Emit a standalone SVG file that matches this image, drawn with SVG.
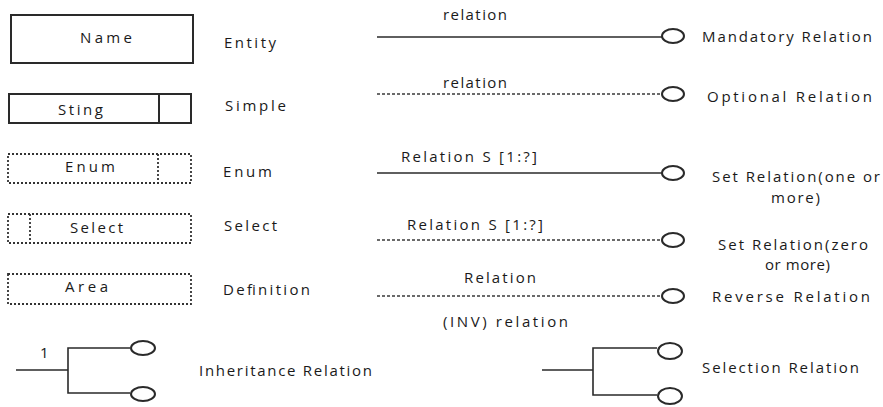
<svg xmlns="http://www.w3.org/2000/svg" width="883" height="407" viewBox="0 0 883 407">
<style>
text{font-family:"Open Sans","Liberation Sans",Arial,sans-serif;font-size:15px;font-weight:500;fill:#1a1a1a}
.box{fill:#fff;stroke:#2a2a2a;stroke-width:2}
.dot{fill:#fff;stroke:#333;stroke-width:1.8;stroke-dasharray:2 2}
.line{fill:none;stroke:#2a2a2a;stroke-width:1.6}
.dash{fill:none;stroke:#3a3a3a;stroke-width:1.4;stroke-dasharray:3 2}
.end{fill:#fff;stroke:#2a2a2a;stroke-width:2}
</style>
<rect width="883" height="407" fill="#fff"/>
<g id="entity">
<rect class="box" x="11" y="15" width="182" height="48"/>
<text x="80" y="43" textLength="52" lengthAdjust="spacing">Name</text>
<text x="224" y="48" textLength="52" lengthAdjust="spacing">Entity</text>
</g>
<g id="simple">
<rect class="box" x="9" y="94" width="182" height="29"/>
<line class="box" x1="159" y1="94" x2="159" y2="123"/>
<text x="58" y="115" textLength="45" lengthAdjust="spacing">Sting</text>
<text x="225" y="111" textLength="61" lengthAdjust="spacing">Simple</text>
</g>
<g id="enum">
<rect class="dot" x="8" y="154" width="183" height="29"/>
<line class="dot" x1="158" y1="154" x2="158" y2="183"/>
<text x="65" y="172" textLength="50" lengthAdjust="spacing">Enum</text>
<text x="223" y="177" textLength="49" lengthAdjust="spacing">Enum</text>
</g>
<g id="select">
<rect class="dot" x="8" y="214" width="183" height="29"/>
<line class="dot" x1="30" y1="214" x2="30" y2="243"/>
<text x="70" y="233" textLength="53" lengthAdjust="spacing">Select</text>
<text x="224" y="231" textLength="53" lengthAdjust="spacing">Select</text>
</g>
<g id="area">
<rect class="dot" x="8" y="274" width="183" height="30"/>
<text x="65" y="292" textLength="43" lengthAdjust="spacing">Area</text>
<text x="223" y="295" textLength="87" lengthAdjust="spacing">Definition</text>
</g>
<g id="connectors">
<line class="line" x1="377" y1="37" x2="662" y2="37"/>
<ellipse class="end" cx="673" cy="36" rx="11" ry="7"/>
<line class="dash" x1="377" y1="94" x2="662" y2="94"/>
<ellipse class="end" cx="673" cy="94" rx="11" ry="7"/>
<line class="line" x1="377" y1="173" x2="662" y2="173"/>
<ellipse class="end" cx="673" cy="173" rx="11" ry="7"/>
<line class="dash" x1="377" y1="240" x2="662" y2="240"/>
<ellipse class="end" cx="673" cy="240" rx="11" ry="7"/>
<line class="dash" x1="377" y1="296" x2="662" y2="296"/>
<ellipse class="end" cx="673" cy="296" rx="11" ry="7"/>
<path class="line" d="M16 370H68M130 348H68V393H130"/>
<ellipse class="end" cx="143" cy="348" rx="12" ry="7"/>
<ellipse class="end" cx="143" cy="394" rx="12" ry="7"/>
<path class="line" d="M542 370H593M657 348H593V395H657"/>
<ellipse class="end" cx="670" cy="351" rx="12" ry="8"/>
<ellipse class="end" cx="670" cy="396" rx="12" ry="8"/>
</g>
<g id="labels">
<text x="443" y="20" textLength="64" lengthAdjust="spacing">relation</text>
<text x="702" y="42" textLength="170" lengthAdjust="spacing">Mandatory Relation</text>
<text x="443" y="88" textLength="64" lengthAdjust="spacing">relation</text>
<text x="707" y="102" textLength="165" lengthAdjust="spacing">Optional Relation</text>
<text x="401" y="162" textLength="136" lengthAdjust="spacing">Relation S [1:?]</text>
<text x="712" y="182" textLength="168" lengthAdjust="spacing">Set Relation(one or</text>
<text x="771" y="203" textLength="49" lengthAdjust="spacing">more)</text>
<text x="407" y="230" textLength="136" lengthAdjust="spacing">Relation S [1:?]</text>
<text x="718" y="250" textLength="150" lengthAdjust="spacing">Set Relation(zero</text>
<text x="765" y="270" textLength="65" lengthAdjust="spacing">or more)</text>
<text x="464" y="283" textLength="72" lengthAdjust="spacing">Relation</text>
<text x="712" y="302" textLength="158" lengthAdjust="spacing">Reverse Relation</text>
<text x="443" y="327" textLength="125" lengthAdjust="spacing">(INV) relation</text>
<text x="40" y="358">1</text>
<text x="199" y="376" textLength="173" lengthAdjust="spacing">Inheritance Relation</text>
<text x="702" y="373" textLength="157" lengthAdjust="spacing">Selection Relation</text>
</g>
</svg>
